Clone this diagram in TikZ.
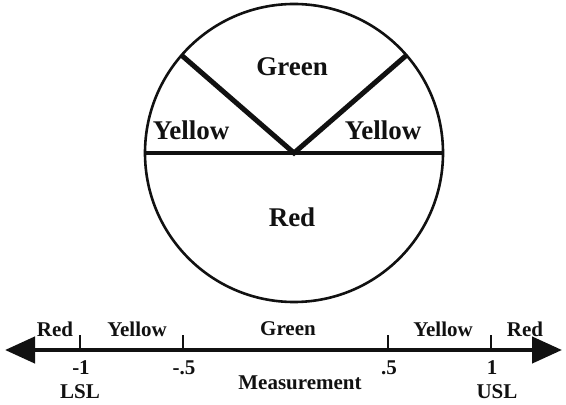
\documentclass[tikz,border=0pt]{standalone}
\usepackage{fontspec}
\setmainfont{Liberation Serif}
\usepackage{tikz}
\usetikzlibrary{arrows.meta,positioning}
\definecolor{ink}{HTML}{111111}

\begin{document}
\begin{tikzpicture}[x=0.5pt,y=-0.5pt,
   zone/.style={font=\fontsize{13.5}{15}\selectfont\bfseries,text=ink,inner sep=0pt},
   scalelab/.style={font=\fontsize{10.5}{12}\selectfont\bfseries,text=ink,inner sep=0pt}]
  \useasboundingbox (0,0) rectangle (566,405);
  % Dial
  \node[circle,draw=ink,line width=1.3pt,minimum size=149pt,inner sep=0pt,outer sep=0pt] (dial) at (294,153) {};
  \draw[ink,line width=1.6pt] (dial.west) -- (dial.east);
  \draw[ink,line width=2.5pt,line join=miter] (dial.139) -- (dial.center) -- (dial.41);
  \node[zone] (dgreen) at (292,67) {Green};
  \node[zone] (dyell) at (191,130) {Yellow};
  \node[zone] (dyelr) at (383,130) {Yellow};
  \node[zone] (dred) at (292,217) {Red};
  % Measurement axis
  \coordinate (lend) at (5,350);
  \coordinate (rend) at (562,350);
  \draw[ink,line width=2.2pt,{Triangle[length=15pt,width=13pt]}-{Triangle[length=15pt,width=13pt]}] (lend) -- (rend);
  \foreach \x/\v/\nm in {80/-1/lsl,183/-.5/lhalf,388/.5/uhalf,491/1/usl}{
    \coordinate (t\nm) at (\x,350);
    \draw[ink,line width=1.3pt] (t\nm) -- ++(0,-15);
    \node[scalelab] (v\nm) at (\x+1,368) {\v};
  }
  \foreach \x/\lab/\nm in {55/Red/zl1,137/Yellow/zl2,288/Green/zc,443/Yellow/zr2,525/Red/zr1}{
    \node[scalelab] (\nm) at (\x,329) {\lab};}
  \node[scalelab] (lsl) at (80,392) {LSL};
  \node[scalelab] (usl) at (497,392) {USL};
  \node[scalelab] (meas) at (300,383) {Measurement};
\end{tikzpicture}
\end{document}
